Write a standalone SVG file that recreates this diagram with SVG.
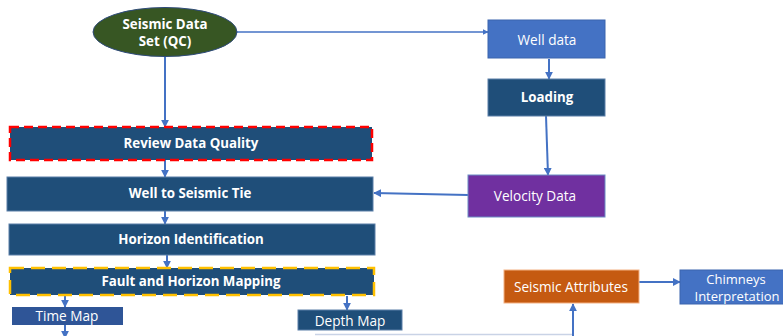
<svg xmlns="http://www.w3.org/2000/svg" width="783" height="336" viewBox="0 0 783 336">
  <style>
    .dark { fill: #1F4E79; stroke: #5B7FA8; stroke-width: 1; }
    .lbl { font-family: "Open Sans", "Liberation Sans", sans-serif; fill: #FFFFFF; text-anchor: middle; dominant-baseline: central; }
    .b { font-weight: bold; font-size: 13.3px; }
    .n { font-size: 13.6px; }
    .conn { stroke: #4472C4; stroke-width: 2; fill: none; marker-end: url(#arr); }
  </style>
  <defs>
    <marker id="arr" viewBox="0 0 10 10" refX="9" refY="5" markerWidth="4" markerHeight="4" orient="auto" markerUnits="strokeWidth">
      <path d="M0,0 L10,5 L0,10 z" fill="#4472C4"/>
    </marker>
  </defs>
  <rect width="783" height="336" fill="#FFFFFF"/>

  <g id="connectors">
    <line class="conn" x1="237" y1="32" x2="488" y2="32" style="stroke-width:1.5"/>
    <line class="conn" x1="549" y1="59" x2="549" y2="79"/>
    <line class="conn" x1="546" y1="116" x2="548" y2="175"/>
    <line class="conn" x1="468" y1="195" x2="374" y2="193"/>
    <line class="conn" x1="165" y1="57" x2="165" y2="127"/>
    <line class="conn" x1="165" y1="160" x2="165" y2="177"/>
    <line class="conn" x1="165" y1="211" x2="165" y2="224"/>
    <line class="conn" x1="167" y1="255" x2="167" y2="268"/>
    <line class="conn" x1="65" y1="296" x2="65" y2="307"/>
    <line class="conn" x1="65" y1="325" x2="65" y2="338"/>
    <line class="conn" x1="347" y1="296" x2="347" y2="310"/>
    <line x1="315" y1="334.5" x2="573" y2="334.5" stroke="#C9D3E6" stroke-width="1.5"/>
    <line class="conn" x1="573" y1="338" x2="573" y2="304"/>
    <line class="conn" x1="639" y1="282" x2="680" y2="282"/>
  </g>

  <g id="seismic-data-set">
    <ellipse cx="165" cy="32" rx="72" ry="24.5" fill="#375623" stroke="#2E4A7A" stroke-width="1"/>
    <text class="lbl b" x="165" y="24" style="font-size:13.3px">Seismic Data</text>
    <text class="lbl b" x="165" y="41" style="font-size:13.3px">Set (QC)</text>
  </g>

  <g id="well-data">
    <rect x="488" y="20" width="117" height="38" fill="#4472C4" stroke="#3B64AE"/>
    <text class="lbl n" x="547" y="39">Well data</text>
  </g>

  <g id="loading">
    <rect class="dark" x="488" y="79" width="117" height="37"/>
    <text class="lbl b" x="547" y="97">Loading</text>
  </g>

  <g id="velocity-data">
    <rect x="468" y="175" width="137" height="42" fill="#7030A0" stroke="#6A8BC4"/>
    <text class="lbl n" x="535" y="195">Velocity Data</text>
  </g>

  <g id="review-data-quality">
    <rect x="10" y="127" width="362" height="33" fill="#1F4E79" stroke="#FF0000" stroke-width="2.5" stroke-dasharray="9,5"/>
    <text class="lbl b" x="191" y="143">Review Data Quality</text>
  </g>

  <g id="well-to-seismic-tie">
    <rect class="dark" x="7" y="177" width="366" height="34"/>
    <text class="lbl b" x="190" y="193">Well to Seismic Tie</text>
  </g>

  <g id="horizon-identification">
    <rect class="dark" x="9" y="224" width="366" height="31"/>
    <text class="lbl b" x="191" y="239">Horizon Identification</text>
  </g>

  <g id="fault-and-horizon-mapping">
    <rect x="10" y="268" width="364" height="27" fill="#1F4E79" stroke="#FFC000" stroke-width="2.5" stroke-dasharray="14,7"/>
    <text class="lbl b" x="191" y="281">Fault and Horizon Mapping</text>
  </g>

  <g id="time-map">
    <rect x="12" y="307" width="111" height="18" fill="#2F5597"/>
    <text class="lbl n" x="67" y="315.5">Time Map</text>
  </g>

  <g id="depth-map">
    <rect class="dark" x="298" y="310" width="104" height="20"/>
    <text class="lbl n" x="350" y="320">Depth Map</text>
  </g>

  <g id="seismic-attributes">
    <rect x="504" y="270" width="135" height="33" fill="#C55A11" stroke="#F4B183" stroke-width="1"/>
    <text class="lbl n" x="571" y="286">Seismic Attributes</text>
  </g>

  <g id="chimneys-interpretation">
    <rect x="680" y="270" width="110" height="34" fill="#4472C4" stroke="#3B64AE"/>
    <text class="lbl n" x="736" y="279" style="font-size:13px">Chimneys</text>
    <text class="lbl n" x="737" y="296" style="font-size:13px">Interpretation</text>
  </g>
</svg>
